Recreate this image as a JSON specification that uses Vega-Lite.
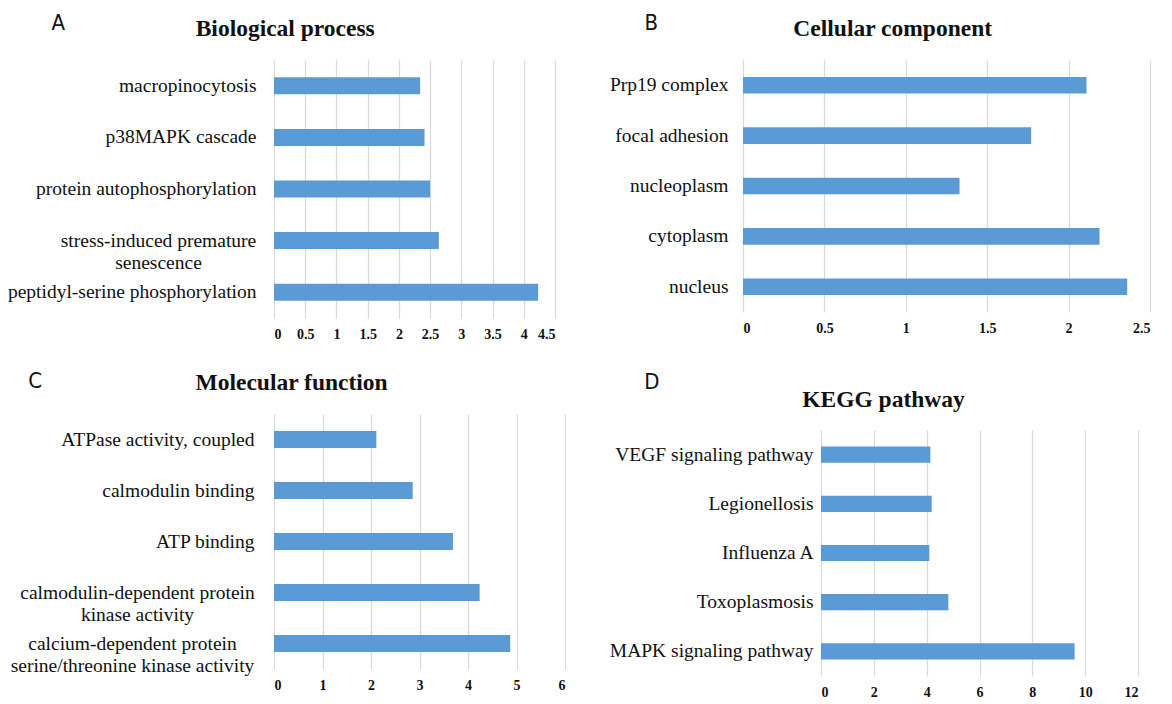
{
  "$schema": "https://vega.github.io/schema/vega-lite/v6.json",
  "background": "white",
  "padding": {"left": 7, "top": 11, "right": 5, "bottom": 0},
  "config": {
    "view": {"stroke": null},
    "font": "Liberation Serif",
    "title": {"font": "Liberation Serif", "fontSize": 23.5, "fontWeight": "bold", "color": "#111111"},
    "bar": {"color": "#5b9bd5"},
    "axisX": {
      "grid": true, "gridColor": "#d9d9d9", "gridWidth": 1.2,
      "ticks": false, "domain": false, "title": null,
      "labelFont": "Liberation Serif", "labelFontSize": 14, "labelFontWeight": "bold",
      "labelColor": "#111111", "labelPadding": 9, "format": "~g"
    },
    "axisY": {
      "grid": false, "ticks": false, "domain": false, "title": null,
      "labelFont": "Liberation Serif", "labelFontSize": 19.5, "labelColor": "#111111",
      "labelPadding": 20, "labelLimit": 400, "labelLineHeight": 22
    }
  },
  "datasets": {
    "bp": [
      {"term": "macropinocytosis", "value": 2.34},
      {"term": "p38MAPK cascade", "value": 2.41},
      {"term": "protein autophosphorylation", "value": 2.5},
      {"term": "stress-induced premature senescence", "value": 2.64},
      {"term": "peptidyl-serine phosphorylation", "value": 4.23}
    ],
    "cc": [
      {"term": "Prp19 complex", "value": 2.11},
      {"term": "focal adhesion", "value": 1.77},
      {"term": "nucleoplasm", "value": 1.33},
      {"term": "cytoplasm", "value": 2.19},
      {"term": "nucleus", "value": 2.36}
    ],
    "mf": [
      {"term": "ATPase activity, coupled", "value": 2.11},
      {"term": "calmodulin binding", "value": 2.86},
      {"term": "ATP binding", "value": 3.69},
      {"term": "calmodulin-dependent protein kinase activity", "value": 4.24},
      {"term": "calcium-dependent protein serine/threonine kinase activity", "value": 4.87}
    ],
    "kegg": [
      {"term": "VEGF signaling pathway", "value": 4.14},
      {"term": "Legionellosis", "value": 4.19},
      {"term": "Influenza A", "value": 4.1},
      {"term": "Toxoplasmosis", "value": 4.82},
      {"term": "MAPK signaling pathway", "value": 9.6}
    ],
    "empty": []
  },
  "spacing": 28,
  "vconcat": [
    {
      "spacing": 54,
      "hconcat": [
        {
          "title": {"text": "A", "anchor": "start", "offset": -18, "dx": 44, "font": "DejaVu Sans Condensed", "fontSize": 22, "fontWeight": "normal"},
          "vconcat": [
            {
              "title": {"text": "Biological process", "offset": 20, "frame": "bounds", "dx": 4},
              "width": 281, "height": 258,
              "data": {"name": "bp"},
              "mark": {"type": "bar"},
              "encoding": {
                "y": {"field": "term", "type": "nominal", "sort": null,
                  "scale": {"paddingInner": 0.67, "paddingOuter": 0.335},
                  "axis": {
                    "labelExpr": "datum.label == 'stress-induced premature senescence' ? ['stress-induced premature', 'senescence'] : datum.label",
                    "labelAlign": {"condition": {"test": "datum.value == 'stress-induced premature senescence'", "value": "center"}, "value": "right"},
                    "labelPadding": {"condition": {"test": "datum.value == 'stress-induced premature senescence'", "value": 116}, "value": 18}
                  }},
                "x": {"field": "value", "type": "quantitative",
                  "scale": {"domain": [0, 4.5], "nice": false},
                  "axis": {"values": [0, 0.5, 1, 1.5, 2, 2.5, 3, 3.5, 4, 4.5]}}
              }
            }
          ]
        },
        {
          "title": {"text": "B", "anchor": "start", "offset": -18, "dx": 35, "font": "DejaVu Sans Condensed", "fontSize": 22, "fontWeight": "normal"},
          "vconcat": [
            {
              "title": {"text": "Cellular component", "offset": 20, "frame": "bounds", "dx": 13},
              "width": 407, "height": 252,
              "data": {"name": "cc"},
              "mark": {"type": "bar"},
              "encoding": {
                "y": {"field": "term", "type": "nominal", "sort": null,
                  "scale": {"paddingInner": 0.67, "paddingOuter": 0.335},
                  "axis": {"labelPadding": 15}},
                "x": {"field": "value", "type": "quantitative",
                  "scale": {"domain": [0, 2.5], "nice": false},
                  "axis": {"values": [0, 0.5, 1, 1.5, 2, 2.5]}}
              }
            }
          ]
        }
      ]
    },
    {
      "spacing": 44,
      "hconcat": [
        {
          "title": {"text": "C", "anchor": "start", "offset": -22, "dx": 18, "font": "DejaVu Sans Condensed", "fontSize": 22, "fontWeight": "normal"},
          "vconcat": [
            {
              "title": {"text": "Molecular function", "offset": 20, "frame": "bounds", "dx": 4},
              "width": 291, "height": 255,
              "data": {"name": "mf"},
              "mark": {"type": "bar"},
              "encoding": {
                "y": {"field": "term", "type": "nominal", "sort": null,
                  "scale": {"paddingInner": 0.67, "paddingOuter": 0.335},
                  "axis": {
                    "labelExpr": "datum.label == 'calmodulin-dependent protein kinase activity' ? ['calmodulin-dependent protein', 'kinase activity'] : datum.label == 'calcium-dependent protein serine/threonine kinase activity' ? ['calcium-dependent protein', 'serine/threonine kinase activity'] : datum.label",
                    "labelAlign": {"condition": {"test": "length(datum.value) > 40", "value": "center"}, "value": "right"},
                    "labelPadding": {"condition": [
                      {"test": "datum.value == 'calmodulin-dependent protein kinase activity'", "value": 137},
                      {"test": "datum.value == 'calcium-dependent protein serine/threonine kinase activity'", "value": 142}
                    ], "value": 20}
                  }},
                "x": {"field": "value", "type": "quantitative",
                  "scale": {"domain": [0, 6], "nice": false},
                  "axis": {"values": [0, 1, 2, 3, 4, 5, 6]}}
              }
            }
          ]
        },
        {
          "title": {"text": "D", "anchor": "start", "offset": -6, "dx": 35, "font": "DejaVu Sans Condensed", "fontSize": 22, "fontWeight": "normal"},
          "spacing": 15,
          "vconcat": [
            {
              "title": {"text": "KEGG pathway", "offset": 3, "dx": -96},
              "width": 317, "height": 1,
              "data": {"name": "empty"},
              "mark": {"type": "point"},
              "encoding": {}
            },
            {
              "width": 317, "height": 246,
              "data": {"name": "kegg"},
              "mark": {"type": "bar"},
              "encoding": {
                "y": {"field": "term", "type": "nominal", "sort": null,
                  "scale": {"paddingInner": 0.67, "paddingOuter": 0.335},
                  "axis": {"labelPadding": 8}},
                "x": {"field": "value", "type": "quantitative",
                  "scale": {"domain": [0, 12], "nice": false},
                  "axis": {"values": [0, 2, 4, 6, 8, 10, 12]}}
              }
            }
          ]
        }
      ]
    }
  ]
}
